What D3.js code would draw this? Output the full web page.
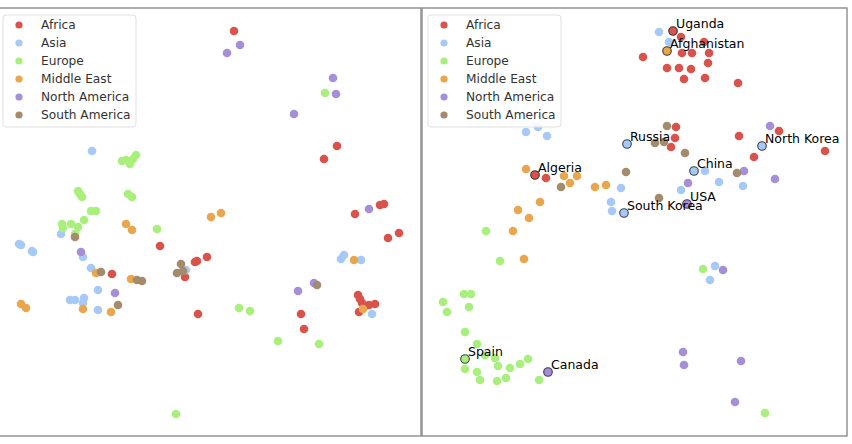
<!DOCTYPE html>
<html><head><meta charset="utf-8">
<script src="https://cdn.jsdelivr.net/npm/d3@7"></script>
<style>body{margin:0;background:#fff}svg{display:block}</style>
</head><body>
<script>
const regions = ["Africa","Asia","Europe","Middle East","North America","South America"];
const regionColors = ["#d9534c","#a7c9f7","#a9ef7b","#eaa64c","#a48fd8","#a38b6b"];

// Left embedding (x, y)
const leftAfrica = [[234,31],[337,146],[324,159],[160,246],[112,274],[185,277],[195,262],[197,261],[207,257],[355,214],[380,205],[384,204],[388,238],[399,233],[358,295],[360,299],[362,303],[365,306],[369,305],[375,304],[359,312],[198,314],[301,314],[304,329]];
const leftAsia = [[92,151],[61,234],[19,244],[21,245],[32,251],[33,252],[83,257],[91,268],[186,270],[98,290],[70,300],[75,300],[84,298],[83,303],[98,310],[341,259],[344,255],[361,260],[372,314]];
const leftEurope = [[325,93],[122,161],[126,160],[130,164],[133,159],[136,155],[78,191],[80,194],[82,197],[128,194],[132,197],[91,211],[96,211],[62,224],[63,228],[71,224],[78,227],[84,220],[75,234],[157,229],[176,414],[239,308],[250,311],[278,341],[319,344]];
const leftMiddleEast = [[126,224],[132,230],[96,273],[131,279],[211,217],[221,213],[21,304],[26,308],[83,309],[111,312],[354,260],[363,309]];
const leftNorthAmerica = [[240,45],[227,53],[333,78],[336,94],[294,114],[81,252],[115,293],[369,209],[314,283],[298,291]];
const leftSouthAmerica = [[75,237],[101,272],[137,280],[142,281],[181,264],[177,273],[183,271],[118,305],[317,285]];

// Right embedding (x, y)
const rightAfrica = [[681,37],[704,42],[643,57],[682,53],[692,53],[709,53],[708,63],[667,68],[679,68],[691,69],[684,79],[705,78],[738,83],[676,127],[675,138],[739,136],[779,131],[671,147],[754,157],[825,151],[546,178]];
const rightAsia = [[659,32],[669,42],[526,132],[538,127],[547,136],[705,171],[719,182],[681,190],[743,186],[621,188],[611,202],[612,211],[715,266],[710,280]];
const rightEurope = [[486,231],[500,261],[464,294],[471,294],[443,302],[447,312],[469,307],[465,332],[477,344],[485,355],[495,358],[465,369],[477,372],[498,366],[510,368],[520,364],[528,359],[480,380],[497,381],[506,378],[539,380],[703,269],[765,413]];
const rightMiddleEast = [[526,169],[564,176],[577,176],[570,183],[595,187],[606,185],[540,202],[518,210],[529,218],[513,231],[524,259]];
const rightNorthAmerica = [[770,126],[744,171],[775,179],[688,183],[723,270],[683,352],[684,365],[741,361],[735,402]];
const rightSouthAmerica = [[667,126],[655,143],[664,142],[685,153],[737,173],[561,187],[626,172],[659,198]];

// Labelled countries in the right embedding: [name, region, x, y]
const labelled = [["Uganda","Africa",673,31],["Afghanistan","Middle East",667,51],["Russia","Asia",627,144],["North Korea","Asia",762,146],["Algeria","Africa",535,175],["China","Asia",694,171],["USA","North America",687,204],["South Korea","Asia",624,213],["Spain","Europe",465,359],["Canada","North America",548,372]];

const leftSets = [leftAfrica,leftAsia,leftEurope,leftMiddleEast,leftNorthAmerica,leftSouthAmerica];
const rightSets = [rightAfrica,rightAsia,rightEurope,rightMiddleEast,rightNorthAmerica,rightSouthAmerica];

const W = 852, H = 444;
const svg = d3.select("body").append("svg").attr("width", W).attr("height", H);
const color = d3.scaleOrdinal().domain(regions).range(regionColors);

const panels = [
  {x0:-6, x1:421, sets:leftSets, labels:[]},
  {x0:422, x1:847, sets:rightSets, labels:labelled}
];
const frameTop = 8, frameBottom = 436;

panels.forEach(p => {
  const g = svg.append("g");
  const x = d3.scaleLinear().domain([p.x0, p.x1]).range([p.x0, p.x1]);
  const y = d3.scaleLinear().domain([frameTop, frameBottom]).range([frameTop, frameBottom]);
  p.sets.forEach((pts, i) => {
    g.selectAll(null).data(pts).enter().append("circle")
      .attr("cx", d => x(d[0])).attr("cy", d => y(d[1])).attr("r", 4.3)
      .attr("fill", color(regions[i]));
  });
  g.selectAll(null).data(p.labels).enter().append("circle")
    .attr("cx", d => x(d[2])).attr("cy", d => y(d[3])).attr("r", 4.3)
    .attr("fill", d => color(d[1])).attr("stroke", "rgba(20,20,30,0.8)").attr("stroke-width", 1.1);
  g.selectAll(null).data(p.labels).enter().append("text")
    .attr("x", d => x(d[2]) + 3).attr("y", d => y(d[3]) - 3)
    .attr("font-family", "DejaVu Sans").attr("font-size", 12.5).attr("fill", "#000")
    .text(d => d[0]);
  // frame
  g.append("rect").attr("x", p.x0).attr("y", frameTop).attr("width", p.x1 - p.x0).attr("height", frameBottom - frameTop)
    .attr("fill", "none").attr("stroke", "#8c8c8c").attr("stroke-width", 1.4);
  // legend
  const lx = p.x0 + (p.x0 < 0 ? 9 : 6);
  const leg = g.append("g").attr("transform", `translate(${lx},15)`);
  leg.append("rect").attr("width", 133).attr("height", 112).attr("rx", 3)
    .attr("fill", "rgba(255,255,255,0.85)").attr("stroke", "#e0e0e0").attr("stroke-width", 1);
  regions.forEach((r, i) => {
    leg.append("circle").attr("cx", 16).attr("cy", 10 + i * 18).attr("r", 3.6).attr("fill", color(r));
    leg.append("text").attr("x", 38).attr("y", 10 + i * 18).attr("dy", "0.36em")
      .attr("font-family", "DejaVu Sans").attr("font-size", 12.2).attr("fill", "#333").text(r);
  });
});
</script>
</body></html>
